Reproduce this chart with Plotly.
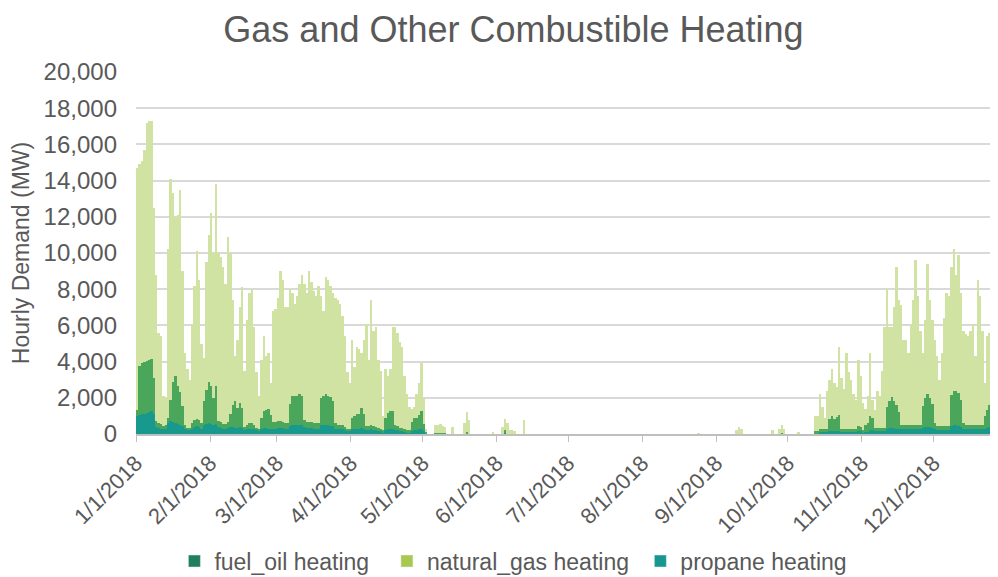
import pandas as pd
import plotly.graph_objects as go

# daily peak hourly demand (MW), one list per month
natural_gas = (
    [13400, 11150, 11200, 11700, 13150, 13200, 13150, 9400, 8100, 5000, 4850, 1650, 1500, 9300, 12200, 10450,
     8800, 9450, 11200, 7450, 4000, 3250, 2650, 5500, 7400, 9250, 7750, 4400, 2400, 7050, 8100]  # jan
    + [9550, 8000, 11150, 9300, 9150, 8650, 7750, 10250, 8900, 5800, 2450, 3750, 5300, 6650, 3100, 5800,
       7200, 7400, 5400, 3050, 1800, 3200, 4150, 2950, 3100, 1750, 6150, 6250]  # feb
    + [6800, 8300, 7850, 6400, 6400, 6350, 5700, 5100, 5500, 6100, 6700, 7500, 7150, 8350, 7750, 7300,
       7000, 7600, 5600, 4700, 6500, 6400, 6150, 5950, 6900, 6900, 6700, 6000, 5000, 3100, 2500]  # mar
    + [4300, 2700, 3700, 3600, 3050, 4100, 5650, 3650, 6900, 5250, 5500, 3750, 3200, 800, 2700, 2050,
       2350, 4650, 5400, 5150, 4750, 4450, 2950, 2000, 1300, 750, 600, 1300, 1750, 2650]  # apr
    + [1450, 200, 0, 0, 0, 420, 400, 450, 380, 300, 0, 0, 400, 0, 0, 0,
       0, 600, 1100, 800, 0, 0, 0, 0, 0, 0, 0, 0, 0, 100, 0]  # may
    + [0, 0, 400, 650, 600, 200, 200, 150, 0, 0, 0, 750, 0, 0, 0, 0,
       0, 0, 0, 0, 0, 0, 0, 0, 0, 0, 0, 0, 0, 0]  # jun
    + [0] * 31  # jul
    + [0, 0, 0, 0, 0, 0, 0, 0, 0, 0, 0, 0, 0, 0, 0, 0,
       0, 0, 0, 0, 0, 0, 0, 50, 0, 0, 0, 0, 0, 0, 0]  # aug
    + [0, 0, 0, 0, 0, 0, 0, 0, 200, 400, 300, 0, 0, 0, 0, 0,
       0, 0, 0, 0, 0, 0, 0, 200, 0, 0, 300, 450, 300, 0]  # sep
    + [0, 0, 0, 0, 100, 0, 0, 0, 0, 0, 0, 850, 850, 1950, 1250, 650,
       2150, 2150, 2600, 1950, 1650, 3750, 2850, 2250, 4250, 3150, 2750, 1950, 1650, 3650, 2800]  # oct
    + [1500, 900, 1500, 3500, 1000, 950, 2050, 1750, 3150, 5550, 6500, 4050, 3850, 5150, 7600, 6200,
       6600, 4700, 4700, 4000, 5600, 6900, 9100, 7100, 5200, 2950, 4300, 7200, 5400, 4650]  # nov
    + [4600, 3850, 2550, 4050, 5950, 7350, 7150, 7050, 7800, 6400, 7650, 5900, 5100, 5000, 4900, 5200,
       5600, 3800, 8000, 7100, 5200, 1800, 4050, 4000, 5000, 6650, 7900, 7500, 7000, 7200, 7000]  # dec
)

fuel_oil = (
    [300, 2700, 2800, 2900, 2900, 2900, 2900, 2000, 300, 250, 250, 200, 200, 300, 1200, 2200,
     2600, 2100, 1800, 1100, 200, 150, 150, 300, 400, 400, 350, 300, 1300, 1900, 2300]  # jan
    + [2100, 1500, 2100, 300, 300, 250, 250, 300, 700, 1200, 1500, 1100, 1300, 1100, 200, 250,
       300, 300, 250, 150, 150, 600, 900, 1000, 1100, 800, 350, 350]  # feb
    + [350, 350, 300, 300, 300, 1200, 1600, 1600, 1600, 1700, 1600, 400, 300, 300, 300, 300,
       300, 300, 1500, 1600, 1700, 1600, 1600, 1400, 300, 250, 250, 250, 200, 150, 150]  # mar
    + [600, 700, 800, 800, 1100, 800, 250, 250, 250, 250, 200, 200, 150, 100, 700, 900,
       1000, 1000, 300, 250, 200, 200, 150, 100, 100, 500, 700, 700, 800, 1000]  # apr
    + [400, 50, 0, 0, 0, 50, 50, 50, 50, 50, 0, 0, 0, 0, 0, 0,
       0, 0, 100, 0, 0, 0, 0, 0, 0, 0, 0, 0, 0, 0, 0]  # may
    + [0, 0, 0, 150, 0, 0, 0, 0, 0, 0, 0, 0, 0, 0, 0, 0,
       0, 0, 0, 0, 0, 0, 0, 0, 0, 0, 0, 0, 0, 0]  # jun
    + [0] * 31  # jul
    + [0] * 31  # aug
    + [0, 0, 0, 0, 0, 0, 0, 0, 0, 0, 0, 0, 0, 0, 0, 0,
       0, 0, 0, 0, 0, 0, 0, 0, 0, 0, 0, 50, 0, 0]  # sep
    + [0, 0, 0, 0, 0, 0, 0, 0, 0, 0, 0, 100, 100, 150, 150, 150,
       150, 700, 850, 700, 800, 900, 150, 150, 150, 150, 150, 150, 150, 300, 250]  # oct
    + [100, 400, 500, 800, 700, 200, 200, 200, 200, 200, 1200, 1500, 1700, 1500, 1300, 900,
       250, 250, 250, 250, 250, 250, 250, 250, 250, 1200, 1600, 1800, 1600, 1300]  # nov
    + [300, 250, 250, 250, 250, 250, 250, 1700, 1900, 1900, 1800, 1500, 300, 250, 250, 250,
       250, 250, 250, 250, 250, 700, 1000, 1200, 1300, 1000, 800, 700, 700, 700, 700]  # dec
)

propane = (
    [1000, 1050, 1100, 1100, 1150, 1200, 1250, 1100, 400, 350, 300, 250, 300, 600, 700, 650,
     600, 550, 500, 450, 300, 200, 200, 300, 400, 450, 400, 300, 500, 550, 600]  # jan
    + [550, 500, 550, 400, 350, 300, 300, 350, 400, 400, 350, 350, 400, 350, 200, 250,
       300, 300, 250, 200, 150, 300, 350, 350, 300, 250, 300, 300]  # feb
    + [350, 350, 350, 300, 300, 450, 500, 500, 500, 500, 500, 400, 350, 350, 350, 300,
       300, 300, 500, 500, 500, 500, 450, 450, 300, 250, 250, 250, 200, 150, 150]  # mar
    + [300, 300, 300, 300, 350, 300, 200, 200, 250, 200, 200, 150, 150, 100, 200, 250,
       250, 250, 200, 200, 150, 150, 100, 100, 100, 150, 200, 200, 250, 250]  # apr
    + [150, 50, 0, 0, 0, 30, 30, 30, 30, 30, 0, 0, 0, 0, 0, 0,
       0, 0, 0, 0, 0, 0, 0, 0, 0, 0, 0, 0, 0, 0, 0]  # may
    + [0, 0, 0, 50, 0, 0, 0, 0, 0, 0, 0, 0, 0, 0, 0, 0,
       0, 0, 0, 0, 0, 0, 0, 0, 0, 0, 0, 0, 0, 0]  # jun
    + [0] * 31  # jul
    + [0] * 31  # aug
    + [0] * 30  # sep
    + [0, 0, 0, 0, 0, 0, 0, 0, 0, 0, 0, 50, 50, 100, 100, 100,
       100, 150, 150, 150, 150, 150, 100, 100, 100, 100, 100, 100, 100, 150, 150]  # oct
    + [100, 100, 100, 200, 200, 150, 150, 150, 150, 150, 300, 350, 350, 350, 300, 300,
       250, 250, 250, 250, 250, 250, 250, 250, 250, 350, 400, 400, 400, 350]  # nov
    + [300, 200, 200, 200, 200, 200, 200, 450, 500, 500, 450, 400, 300, 250, 250, 250,
       250, 250, 250, 250, 250, 300, 350, 400, 400, 350, 300, 300, 300, 300, 300]  # dec
)

month_ticks = ['2018-%02d-01' % m for m in range(1, 13)]
month_labels = ['%d/1/2018' % m for m in range(1, 13)]

days = pd.date_range('2018-01-01 12:00', periods=365, freq='D')

FONT = 'Liberation Sans, Arial, sans-serif'
GREY = '#595959'

fig = go.Figure()

# stacked bars: propane at the bottom, fuel oil, natural gas on top
fig.add_trace(go.Bar(x=days, y=propane, marker=dict(color='#17998d', line=dict(width=0)),
                     showlegend=False, name='propane heating'))
fig.add_trace(go.Bar(x=days, y=fuel_oil, marker=dict(color='#4aa65b', line=dict(width=0)),
                     showlegend=False, name='fuel_oil heating'))
fig.add_trace(go.Bar(x=days, y=natural_gas, marker=dict(color='#d0e3a2', line=dict(width=0)),
                     showlegend=False, name='natural_gas heating'))

# legend entries in the swatch colours of the original (trailing spaces widen the gaps)
for nm, col in [('fuel_oil heating\u00a0\u00a0', '#1f7f5e'), ('natural_gas heating\u00a0', '#a9c84e'),
                ('propane heating', '#15978f')]:
    fig.add_trace(go.Bar(x=[None], y=[None], name=nm, marker=dict(color=col)))

# page body adds an 8px margin, so the figure is 8px smaller each way
fig.update_layout(
    width=990, height=569,
    barmode='stack', bargap=0,
    plot_bgcolor='white', paper_bgcolor='white',
    margin=dict(l=128, r=0, t=64, b=143, autoexpand=False),
    font=dict(family=FONT, size=23, color=GREY),
    title=dict(text='Gas and Other Combustible Heating', font=dict(size=36, color=GREY),
               x=0.5106, xanchor='center', xref='container', y=0.963, yanchor='middle', yref='container'),
    legend=dict(orientation='h', x=0.5105, xanchor='center', xref='container',
                y=0.028, yanchor='middle', yref='container',
                font=dict(size=23, color=GREY), traceorder='normal'),
)

fig.update_xaxes(
    type='date', range=['2018-01-01', '2018-12-28'], automargin=False,
    tickmode='array', tickvals=month_ticks, ticktext=month_labels, tickangle=-45,
    showgrid=False, showline=True, linecolor='#bfbfbf', linewidth=1.5,
    ticks='outside', ticklen=6, tickcolor='#bfbfbf', tickfont=dict(size=22, color=GREY),
)
fig.update_yaxes(
    range=[0, 20000], dtick=2000, tickformat=',', showgrid=True, gridcolor='#d9d9d9', gridwidth=1.5,
    zeroline=False, automargin=False, ticklabelstandoff=18, tickfont=dict(size=24, color=GREY),
    title=dict(text='Hourly Demand (MW)', font=dict(size=23, color=GREY), standoff=8),
)

fig.write_html('out.html')
